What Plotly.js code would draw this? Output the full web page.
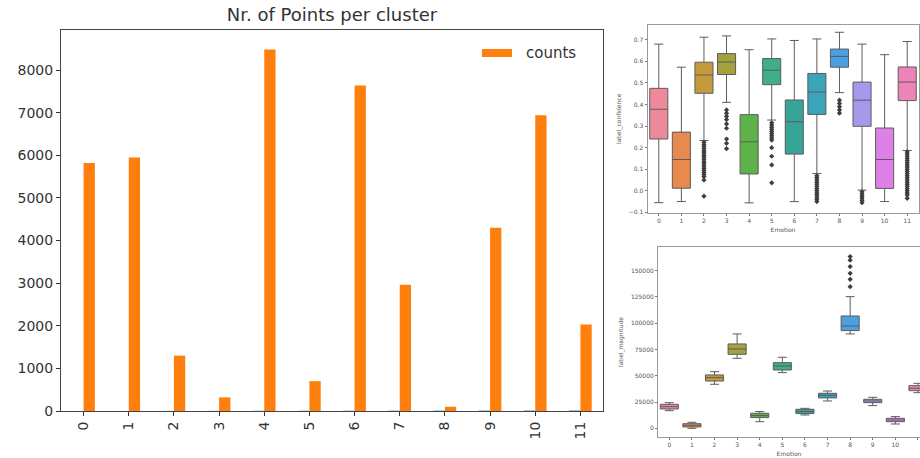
<!DOCTYPE html>
<html>
<head>
<meta charset="utf-8">
<script src="https://cdn.plot.ly/plotly-3.0.1.min.js"></script>
<style>html,body{margin:0;padding:0;background:#fff;}#chart{width:920px;height:458px;}</style>
</head>
<body>
<div id="chart"></div>
<script>
// ---------- data ----------
const clusters = ['0','1','2','3','4','5','6','7','8','9','10','11'];
const clusterIds = [0,1,2,3,4,5,6,7,8,9,10,11];
const counts = [5820, 5950, 1300, 320, 8480, 700, 7640, 2960, 100, 4300, 6940, 2030];

const confLower  = [-0.055, -0.050, 0.233, 0.410, -0.056, 0.328, -0.050, 0.080, 0.455, 0.003, -0.050, 0.187];
const confQ1     = [0.240, 0.012, 0.452, 0.539, 0.078, 0.492, 0.170, 0.354, 0.573, 0.299, 0.011, 0.418];
const confMedian = [0.378, 0.145, 0.537, 0.597, 0.227, 0.559, 0.320, 0.458, 0.623, 0.420, 0.145, 0.504];
const confQ3     = [0.475, 0.272, 0.596, 0.636, 0.353, 0.613, 0.421, 0.544, 0.657, 0.504, 0.291, 0.574];
const confUpper  = [0.680, 0.573, 0.712, 0.718, 0.654, 0.704, 0.697, 0.704, 0.735, 0.680, 0.631, 0.692];
const confOutliers = [
  [],
  [],
  [0.225,0.215,0.205,0.195,0.185,0.175,0.165,0.155,0.145,0.135,0.125,0.115,0.105,0.095,0.085,0.075,0.065,0.05,-0.025],
  [0.375,0.36,0.345,0.33,0.31,0.29,0.24,0.22,0.195],
  [],
  [0.315,0.305,0.295,0.285,0.275,0.265,0.255,0.245,0.235,0.2,0.16,0.12,0.037],
  [],
  [0.07,0.06,0.05,0.04,0.03,0.02,0.01,0.0,-0.01,-0.02,-0.03,-0.04,-0.05],
  [0.42,0.405,0.39,0.375,0.36],
  [-0.005,-0.015,-0.025,-0.035,-0.045,-0.055],
  [],
  [0.18,0.17,0.16,0.15,0.14,0.13,0.12,0.11,0.10,0.09,0.08,0.07,0.06,0.05,0.04,0.03,0.02,0.01,0.0,-0.01,-0.02,-0.035]
];

const magLower  = [16800, 0, 41900, 66600, 6300, 53000, 12700, 26000, 89800, 21600, 4100, 33900];
const magQ1     = [18400, 1300, 45000, 70400, 10200, 55500, 14000, 28900, 93000, 24400, 6300, 35800];
const magMedian = [20600, 2900, 48200, 75500, 12100, 59300, 15900, 31400, 97400, 26000, 7900, 38100];
const magQ3     = [22800, 4400, 50800, 80300, 14300, 62500, 18100, 33300, 106900, 27600, 9500, 40600];
const magUpper  = [24400, 5700, 53900, 89800, 15900, 67600, 19000, 35500, 125300, 29500, 11100, 42800];
const magOutliers = [[],[],[],[],[],[],[],[],[134800,141800,147500,153900,160000,163400],[],[],[]];

const boxColors = ['#ec8a9c','#e88a4e','#c49a3c','#a4a23c','#5db34a','#3fae8a',
                   '#36a597','#3aa4b8','#4aa0e0','#a499ea','#dd80e8','#ee83b8'];

// ---------- traces ----------
const W = 920, H = 458;
const traces = [];

traces.push({type:'bar', x: clusterIds, y: clusterIds, name:'cluster', marker:{color:'#1f77b4'},
  showlegend:false, xaxis:'x', yaxis:'y', hoverinfo:'skip'});
traces.push({type:'bar', x: clusterIds, y: counts, name:'counts', marker:{color:'#ff7f0e'},
  showlegend:false, xaxis:'x', yaxis:'y'});

function addBoxes(lower, q1, med, q3, upper, outliers, xa, ya) {
  for (let i = 0; i < clusters.length; i++) {
    traces.push({type:'box', x:[i], q1:[q1[i]], median:[med[i]], q3:[q3[i]],
      lowerfence:[lower[i]], upperfence:[upper[i]], width:0.8, whiskerwidth:0.5,
      fillcolor: boxColors[i], line:{color:'#5c5c5c', width:1},
      showlegend:false, xaxis:xa, yaxis:ya, boxpoints:false});
  }
  const ox = [], oy = [];
  outliers.forEach((arr, i) => arr.forEach(v => { ox.push(i); oy.push(v); }));
  traces.push({type:'scatter', mode:'markers', x:ox, y:oy, xaxis:xa, yaxis:ya, showlegend:false,
    marker:{symbol:'diamond', size:4, color:'#3d3d3d'}});
}
addBoxes(confLower, confQ1, confMedian, confQ3, confUpper, confOutliers, 'x2', 'y2');
addBoxes(magLower, magQ1, magMedian, magQ3, magUpper, magOutliers, 'x3', 'y3');

// ---------- layout ----------
const px = v => v / W;
const py = v => 1 - v / H;
const font = 'DejaVu Sans, sans-serif';
const smallAxis = {
  tickfont:{size:6, color:'#555', family:font}, ticks:'outside', ticklen:2, tickcolor:'#777',
  showgrid:false, zeroline:false, showline:true, linecolor:'#999', linewidth:1
};

const layout = {
  width: W, height: H,
  margin:{l:0, r:0, t:0, b:0, pad:0},
  paper_bgcolor:'#fff', plot_bgcolor:'#fff',
  font:{family:font, color:'#333'},
  barmode:'group', bargap:0.5, bargroupgap:0,
  boxmode:'overlay',
  showlegend:false,
  title:{text:'Nr. of Points per cluster', x: px(332), y: py(15), xref:'paper', yref:'paper',
    xanchor:'center', yanchor:'middle', font:{size:18, family:font, color:'#333'}},
  xaxis:{domain:[px(61), px(603)], range:[-0.5, 11.5], tickvals:clusterIds, ticktext:clusters,
    tickangle:-90, tickfont:{size:14, family:font, color:'#333'}, ticks:'outside', ticklen:4, tickcolor:'#333',
    showgrid:false, zeroline:false, showline:true, mirror:true, linecolor:'#444', linewidth:1, anchor:'y'},
  yaxis:{domain:[py(411), py(30)], range:[0, 8940], tickvals:[0,1000,2000,3000,4000,5000,6000,7000,8000],
    tickfont:{size:14, family:font, color:'#333'}, ticks:'outside', ticklen:4, tickcolor:'#333',
    showgrid:false, zeroline:false, showline:true, mirror:true, linecolor:'#444', linewidth:1, anchor:'x'},
  xaxis2:Object.assign({}, smallAxis, {domain:[px(647.5), px(918.5)], range:[-0.5, 11.5],
    tickvals:clusterIds, ticktext:clusters, mirror:true, anchor:'y2',
    title:{text:'Emotion', font:{size:6, color:'#555', family:font}, standoff:4}}),
  yaxis2:Object.assign({}, smallAxis, {domain:[py(213), py(24.7)], range:[-0.103, 0.77],
    tickvals:[-0.1,0,0.1,0.2,0.3,0.4,0.5,0.6,0.7], tickformat:'.1f', mirror:true, anchor:'x2',
    title:{text:'label_confidence', font:{size:6, color:'#555', family:font}, standoff:6}}),
  xaxis3:Object.assign({}, smallAxis, {domain:[px(658), 1], range:[-0.5, 11.09],
    tickvals:clusterIds, ticktext:clusters, mirror:true, anchor:'y3',
    title:{text:'Emotion', font:{size:6, color:'#555', family:font}, standoff:4}}),
  yaxis3:Object.assign({}, smallAxis, {domain:[py(437), py(247)], range:[-8280, 172550],
    tickvals:[0,25000,50000,75000,100000,125000,150000], tickformat:'d', mirror:false, anchor:'x3',
    title:{text:'label_magnitude', font:{size:6, color:'#555', family:font}, standoff:6}}),
  shapes:[
    {type:'rect', xref:'paper', yref:'paper', x0:px(482), x1:px(512), y0:py(57), y1:py(49),
     fillcolor:'#ff7f0e', line:{width:0}}
  ],
  annotations:[
    {text:'counts', xref:'paper', yref:'paper', x:px(524), y:py(53), xanchor:'left', yanchor:'middle',
     showarrow:false, font:{size:15, family:font, color:'#333'}}
  ]
};

Plotly.newPlot('chart', traces, layout, {staticPlot:true, displayModeBar:false});
</script>
</body>
</html>
